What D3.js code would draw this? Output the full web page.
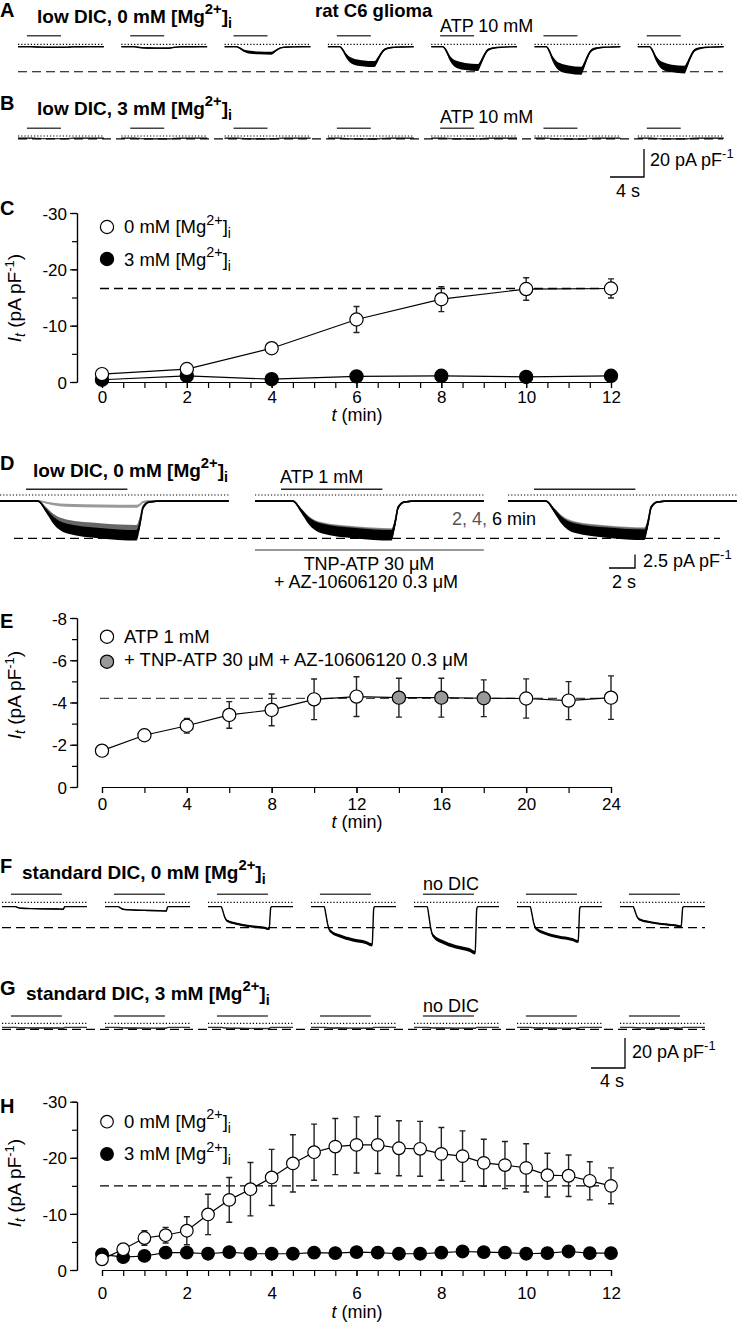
<!DOCTYPE html>
<html><head><meta charset="utf-8">
<script src="https://cdn.jsdelivr.net/npm/d3@7"></script>
<style>
body{margin:0;background:#fff;}
</style></head><body>
<svg id="fig" width="739" height="1322" xmlns="http://www.w3.org/2000/svg"></svg>
<script>
// ================= DATA =================
// Panels A/B: ATP 10 mM responses (pA pF-1), low DIC
const ampA = [0.4, 1.1, 4.7, 12.4, 14.9, 17.2, 16.4];
const ampB = [0.3, 0.4, 0.4, 0.5, 0.4, 0.5, 0.4];
const holdA = -1.7, holdB = -1.6;
const refA = -19.6, refB = -2.1;
const barA = [1.05, 5.05];           // ATP application (s)
const shapeA_t = [0, 1.4, 1.7, 2.2, 2.6, 3.0, 4.0, 5.5, 5.8, 6.2, 6.7, 7.5, 8.5, 10.1];
const shapeA_f = [0, 0, 0.15, 0.55, 0.75, 0.85, 0.95, 1.0, 0.8, 0.45, 0.15, 0.05, 0.02, 0];
const shapeA_n = [0, 0, 0.05, 0.1, 0.13, 0.15, 0.15, 0.15, 0.12, 0.08, 0.04, 0.02, 0, 0];

// Panel C
const timeC = [0, 2, 4, 6, 8, 10, 12];
const c0Mean = [-1.4, -2.3, -6.0, -11.1, -14.7, -16.5, -16.6];
const c0Err = [0.3, 0.3, 0.4, 2.3, 2.2, 2.0, 1.7];
const c3Mean = [-0.4, -1.1, -0.5, -1.0, -1.1, -0.9, -1.1];
const c3Err = [0.2, 0.2, 0.2, 0.2, 0.2, 0.2, 0.2];
const cRef = -16.6;

// Panel D: ATP 1 mM responses at 2, 4, 6 min (pA pF-1)
const ampD2 = [1.0, 6.0, 5.8];
const ampD4 = [5.3, 6.2, 6.0];
const ampD6 = [6.4, 6.4, 6.3];
const holdD = -1.12, refD = -8.1;
const barD = [2.0, 9.8];
const tnpD = [0, 17.6];
const shapeD_t = [0, 2.9, 3.6, 4.1, 5.1, 7.7, 10.5, 10.8, 11.0, 11.5, 12.5, 17.6];
const shapeD_f = [0, 0, 0.31, 0.56, 0.8, 0.94, 1.0, 0.6, 0.2, 0.03, 0, 0];
const shapeD_n = [0, 0, 0.04, 0.08, 0.12, 0.13, 0.13, 0.08, 0.03, 0, 0, 0];

// Panel E
const timeE = [0, 2, 4, 6, 8, 10, 12, 14, 16, 18, 20, 22, 24];
const eMean = [-1.72, -2.45, -2.9, -3.41, -3.65, -4.15, -4.28, -4.23, -4.23, -4.2, -4.19, -4.09, -4.23];
const eErr = [0.1, 0.1, 0.35, 0.63, 0.75, 0.96, 0.94, 0.92, 0.92, 0.87, 0.93, 0.9, 1.03];
const eBlocker = [0, 0, 0, 0, 0, 0, 0, 1, 1, 1, 0, 0, 0];
const eRef = -4.2;

// Panels F/G: standard DIC
const ampF = [1.7, 2.9, 14.9, 25.5, 30.7, 23.3, 13.3];
const ampG = [0.5, 0.6, 0.8, 0.6, 0.6, 0.6, 0.5];
const holdF = -2.9, holdG = -2.7;
const refF = -16.9, refG = -4.0;
const barF = [1.05, 7.05];
const shapeF_t = [0, 1.55, 1.75, 1.95, 2.15, 2.35, 3.3, 4.9, 6.5, 7.2, 7.28, 7.38, 7.5, 10];
const shapeF_f = [0, 0, 0.2, 0.45, 0.6, 0.65, 0.76, 0.87, 0.94, 1.0, 0.6, 0.05, 0, 0];
const shapeF_n = [0, 0, 0.01, 0.02, 0.03, 0.03, 0.03, 0.03, 0.03, 0.03, 0.02, 0, 0, 0];

// Panel H
const timeH = [0, 0.5, 1, 1.5, 2, 2.5, 3, 3.5, 4, 4.5, 5, 5.5, 6, 6.5, 7, 7.5, 8, 8.5, 9, 9.5, 10, 10.5, 11, 11.5, 12];
const h0Mean = [-1.9, -3.7, -5.7, -6.2, -7.0, -9.9, -12.5, -14.4, -16.5, -19.0, -21.0, -22.0, -22.3, -22.3, -21.7, -21.6, -20.7, -20.3, -19.1, -18.7, -18.2, -16.9, -16.8, -15.9, -15.0];
const h0Err = [0.3, 0.6, 1.3, 1.4, 2.5, 3.6, 4.0, 4.75, 5.0, 5.1, 5.0, 5.0, 5.0, 5.1, 4.9, 4.9, 4.7, 4.5, 4.2, 4.2, 4.3, 3.9, 3.7, 3.4, 3.2];
const h3Mean = [-2.8, -2.3, -2.5, -3.1, -3.1, -2.9, -3.2, -2.9, -2.9, -2.9, -3.1, -3.0, -3.2, -3.1, -2.9, -2.9, -3.1, -3.3, -3.2, -3.1, -2.9, -3.0, -3.3, -3.0, -3.0];
const hRef = -15.0;

// ================= DRAWING =================
const FONT = '"Liberation Sans", Arial, Helvetica, sans-serif';
const svg = d3.select("#fig").attr("font-family", FONT);

function text(x, y, s, size, opt = {}) {
  const t = svg.append("text").attr("x", x).attr("y", y).attr("font-size", size)
    .attr("fill", opt.fill || "#000").text(s);
  if (opt.bold) t.attr("font-weight", "bold");
  if (opt.anchor) t.attr("text-anchor", opt.anchor);
  return t;
}
function mgLabel(x, y, prefix, size, bold) {
  const t = svg.append("text").attr("x", x).attr("y", y).attr("font-size", size)
    .attr("font-weight", bold ? "bold" : "normal");
  t.append("tspan").text(prefix + "[Mg");
  t.append("tspan").attr("font-size", size * 0.78).attr("dy", -size * 0.45).text("2+");
  t.append("tspan").attr("dy", size * 0.45).text("]");
  t.append("tspan").attr("font-size", size * 0.75).attr("dy", size * 0.28).text("i");
  return t;
}
function unitLabel(x, y, prefix, size) {
  const t = svg.append("text").attr("x", x).attr("y", y).attr("font-size", size);
  t.append("tspan").text(prefix + "pA pF");
  t.append("tspan").attr("font-size", size * 0.72).attr("dy", -size * 0.45).text("-1");
}

// ---------- trace rows ----------
function traceRow(o) {
  const g = svg.append("g");
  const y = d3.scaleLinear().domain([0, -10]).range([o.zeroY, o.zeroY + 10 * o.ppu]);
  o.starts.forEach((x0, i) => {
    const x = d3.scaleLinear().domain([0, o.dur]).range([x0, x0 + o.dur * o.pps]);
    g.append("line").attr("x1", x(0)).attr("x2", x(o.dur)).attr("y1", y(0)).attr("y2", y(0))
      .attr("stroke", "#000").attr("stroke-width", 1.2).attr("stroke-dasharray", "1.2,2");
    g.append("line").attr("x1", x(o.bar[0])).attr("x2", x(o.bar[1]))
      .attr("y1", y(0) + o.barDy).attr("y2", y(0) + o.barDy)
      .attr("stroke", o.barColor).attr("stroke-width", 1.4);
    o.layers.forEach(L => {
      const amp = L.amps[i];
      const pts = o.shape.t.map((t, k) => ({
        t, v: o.hold - amp * o.shape.f[k], n: o.noiseBase + amp * o.shape.n[k]
      }));
      g.append("path").datum(pts)
        .attr("d", d3.area().curve(d3.curveMonotoneX).x(d => x(d.t))
          .y0(d => y(d.v - d.n)).y1(d => y(d.v + d.n)))
        .attr("fill", L.color).attr("stroke", "none");
      g.append("path").datum(pts)
        .attr("d", d3.line().curve(d3.curveMonotoneX).x(d => x(d.t)).y(d => y(d.v)))
        .attr("fill", "none").attr("stroke", L.color).attr("stroke-width", o.lw);
    });
  });
  g.append("line").attr("x1", o.refX[0]).attr("x2", o.refX[1]).attr("y1", y(o.ref)).attr("y2", y(o.ref))
    .attr("stroke", "#000").attr("stroke-width", 1.2).attr("stroke-dasharray", "9,5");
  return { y };
}

const shapeA = { t: shapeA_t, f: shapeA_f, n: shapeA_n };
const shapeD = { t: shapeD_t, f: shapeD_f, n: shapeD_n };
const shapeF = { t: shapeF_t, f: shapeF_f, n: shapeF_n };
const startsA = d3.range(7).map(i => 18 + i * 103.3);
const startsF = d3.range(7).map(i => 2 + i * 103);

traceRow({ starts: startsA, zeroY: 44.3, ppu: 1.4, pps: 8.5, dur: 10.1, hold: holdA,
  layers: [{ amps: ampA, color: "#000" }], shape: shapeA, noiseBase: 0.3, lw: 1.4,
  bar: barA, barDy: -8.6, barColor: "#444", ref: refA, refX: [18, 723] });
traceRow({ starts: startsA, zeroY: 136, ppu: 1.4, pps: 8.5, dur: 10.1, hold: holdB,
  layers: [{ amps: ampB, color: "#333" }], shape: shapeA, noiseBase: 0.3, lw: 1.4,
  bar: barA, barDy: -7.7, barColor: "#444", ref: refB, refX: [18, 723] });
traceRow({ starts: [0, 255, 508], zeroY: 495, ppu: 5.36, pps: 13, dur: 17.6, hold: holdD,
  layers: [{ amps: ampD2, color: "#9a9a9a" }, { amps: ampD4, color: "#666" }, { amps: ampD6, color: "#000" }],
  shape: shapeD, noiseBase: 0.15, lw: 1.6,
  bar: barD, barDy: -5.7, barColor: "#222", ref: refD, refX: [14, 720] });
{
  const x = d3.scaleLinear().domain([0, 17.6]).range([255, 255 + 17.6 * 13]);
  svg.append("line").attr("x1", x(tnpD[0])).attr("x2", x(tnpD[1])).attr("y1", 550).attr("y2", 550)
    .attr("stroke", "#777").attr("stroke-width", 1.4);
}
traceRow({ starts: startsF, zeroY: 902.3, ppu: 1.5, pps: 8.5, dur: 10, hold: holdF,
  layers: [{ amps: ampF, color: "#000" }], shape: shapeF, noiseBase: 0.3, lw: 1.4,
  bar: barF, barDy: -8, barColor: "#444", ref: refF, refX: [2, 705] });
traceRow({ starts: startsF, zeroY: 1023.3, ppu: 1.5, pps: 8.5, dur: 10, hold: holdG,
  layers: [{ amps: ampG, color: "#333" }], shape: shapeF, noiseBase: 0.3, lw: 1.4,
  bar: barF, barDy: -7.3, barColor: "#444", ref: refG, refX: [2, 705] });

function scaleBar(cx, cy, vLen, hLen) {
  svg.append("path").attr("d", `M${cx},${cy - vLen}V${cy}H${cx - hLen}`)
    .attr("fill", "none").attr("stroke", "#000").attr("stroke-width", 1.3);
}
scaleBar(644, 177, 20 * 1.4, 4 * 8.5);
unitLabel(650, 166, "20 ", 18);
text(616, 197, "4 s", 18);
scaleBar(635, 568, 2.5 * 5.36, 2 * 13);
unitLabel(643, 567, "2.5 ", 18);
text(612, 588, "2 s", 18);
scaleBar(625, 1068, 20 * 1.5, 4 * 8.5);
unitLabel(632, 1058, "20 ", 18);
text(600, 1087, "4 s", 18);

const LET = 20;
text(0, 17, "A", LET, { bold: true });
mgLabel(37, 23, "low DIC, 0 mM ", 19, true);
text(315, 17, "rat C6 glioma", 18.5, { bold: true });
text(440, 32, "ATP 10 mM", 18);
text(0, 110, "B", LET, { bold: true });
mgLabel(37, 115, "low DIC, 3 mM ", 19, true);
text(440, 123, "ATP 10 mM", 18);

text(0, 470, "D", LET, { bold: true });
mgLabel(33, 477, "low DIC, 0 mM ", 19, true);
text(280, 483, "ATP 1 mM", 18);
{
  const t = svg.append("text").attr("x", 452).attr("y", 525).attr("font-size", 18);
  t.append("tspan").attr("fill", "#555").text("2, 4, ");
  t.append("tspan").attr("fill", "#000").text("6 min");
}
text(369, 570, "TNP-ATP 30 μM", 18, { anchor: "middle" });
text(366, 588, "+ AZ-10606120 0.3 μM", 18, { anchor: "middle" });

text(0, 873, "F", LET, { bold: true });
mgLabel(22, 879, "standard DIC, 0 mM ", 19, true);
text(423, 890, "no DIC", 18);
text(0, 995, "G", LET, { bold: true });
mgLabel(26, 1000, "standard DIC, 3 mM ", 19, true);
text(423, 1011.7, "no DIC", 18);

// ---------- XY plots ----------
function yLabel(cx, cy) {
  const t = svg.append("text").attr("transform", `translate(${cx},${cy}) rotate(-90)`)
    .attr("text-anchor", "middle").attr("font-size", 19);
  t.append("tspan").attr("font-style", "italic").text("I");
  t.append("tspan").attr("font-style", "italic").attr("font-size", 14).attr("dy", 4).text("t");
  t.append("tspan").attr("dy", -4).text(" (pA pF");
  t.append("tspan").attr("font-size", 13).attr("dy", -7).text("-1");
  t.append("tspan").attr("dy", 7).text(")");
}
function xLabel(cx, y) {
  const t = svg.append("text").attr("x", cx).attr("y", y).attr("text-anchor", "middle").attr("font-size", 18);
  t.append("tspan").attr("font-style", "italic").text("t");
  t.append("tspan").text(" (min)");
}
function styleAxis(g) {
  g.selectAll("path,line").attr("stroke", "#000").attr("stroke-width", 1.2);
  g.selectAll("text").attr("font-size", 17).attr("font-family", FONT).attr("fill", "#000");
  g.attr("font-family", null).attr("font-size", null);
}
function plot(o) {
  const x = d3.scaleLinear().domain(o.xDomain).range([102, 611]);
  const y = d3.scaleLinear().domain([0, o.yMin]).range([o.y0, o.yTop]);
  const gy1 = svg.append("g").attr("transform", "translate(77,0)")
    .call(d3.axisLeft(y).tickValues(o.yMinor).tickSize(5).tickSizeOuter(0).tickFormat(""));
  const gy2 = svg.append("g").attr("transform", "translate(77,0)")
    .call(d3.axisLeft(y).tickValues(o.yMajor).tickSize(7).tickSizeOuter(0).tickPadding(3).tickFormat(d => String(d)));
  styleAxis(gy1); styleAxis(gy2);
  gy2.selectAll("text").attr("dy", "0.36em");
  const gx1 = svg.append("g").attr("transform", `translate(0,${o.y0})`)
    .call(d3.axisBottom(x).tickValues(o.xTicks).tickSize(6).tickSizeOuter(0).tickFormat(""));
  const gx2 = svg.append("g").attr("transform", `translate(0,${o.y0})`)
    .call(d3.axisBottom(x).tickValues(o.xLabels).tickSize(6).tickSizeOuter(0).tickPadding(o.xPad).tickFormat(d => String(d)));
  styleAxis(gx1); styleAxis(gx2);
  svg.append("line").attr("x1", x(o.xDomain[0]) - 2).attr("x2", x(o.xDomain[1]))
    .attr("y1", y(o.ref)).attr("y2", y(o.ref))
    .attr("stroke", o.refColor).attr("stroke-width", 1.3).attr("stroke-dasharray", "9,5");
  o.series.forEach(s => {
    const pts = o.time.map((t, i) => ({ t, m: s.mean[i], e: s.err[i], fill: s.fill(i) }));
    svg.append("path").datum(pts)
      .attr("d", d3.line().x(d => x(d.t)).y(d => y(d.m)))
      .attr("fill", "none").attr("stroke", "#000").attr("stroke-width", 1.2);
    const eb = svg.append("g");
    pts.forEach(d => {
      const yt = y(d.m - d.e), yb = y(d.m + d.e), cx = x(d.t);
      eb.append("path").attr("d", `M${cx},${yt}V${yb}M${cx - 3},${yt}H${cx + 3}M${cx - 3},${yb}H${cx + 3}`)
        .attr("stroke", "#222").attr("stroke-width", 1.4).attr("fill", "none");
    });
    svg.append("g").selectAll("circle").data(pts).join("circle")
      .attr("cx", d => x(d.t)).attr("cy", d => y(d.m)).attr("r", o.r)
      .attr("fill", d => d.fill).attr("stroke", "#000").attr("stroke-width", 1.2);
  });
  o.legend.forEach(L => {
    svg.append("circle").attr("cx", 107).attr("cy", L.cy).attr("r", o.r)
      .attr("fill", L.fill).attr("stroke", "#000").attr("stroke-width", 1.2);
    if (L.mg) mgLabel(124, L.base, L.text, 18.5, false);
    else text(124, L.base, L.text, 18.5);
  });
  yLabel(o.yLabelX, o.yLabelY);
  xLabel(357, o.xLabelY);
}

text(0, 215, "C", LET, { bold: true });
plot({
  xDomain: [0, 12], yMin: -30, y0: 382, yTop: 213,
  yMinor: d3.range(0, -31, -5), yMajor: [-30, -20, -10, 0],
  xTicks: d3.range(0, 12.01, 0.5), xLabels: [0, 2, 4, 6, 8, 10, 12], xPad: 3,
  ref: cRef, refColor: "#000", r: 6.6, time: timeC,
  series: [
    { mean: c3Mean, err: c3Err, fill: () => "#000" },
    { mean: c0Mean, err: c0Err, fill: () => "#fff" }
  ],
  legend: [{ cy: 227, base: 233, text: "0 mM ", mg: true, fill: "#fff" },
           { cy: 259, base: 265.5, text: "3 mM ", mg: true, fill: "#000" }],
  yLabelX: 21, yLabelY: 298, xLabelY: 421
});

text(0, 628, "E", LET, { bold: true });
plot({
  xDomain: [0, 24], yMin: -8, y0: 787, yTop: 618,
  yMinor: d3.range(0, -8.01, -1), yMajor: [-8, -6, -4, -2, 0],
  xTicks: d3.range(0, 24.01, 2), xLabels: [0, 4, 8, 12, 16, 20, 24], xPad: 4.5,
  ref: eRef, refColor: "#444", r: 6.6, time: timeE,
  series: [
    { mean: eMean, err: eErr, fill: i => eBlocker[i] ? "#999" : "#fff" }
  ],
  legend: [{ cy: 636.7, base: 643, text: "ATP 1 mM", fill: "#fff" },
           { cy: 661.7, base: 665.5, text: "+ TNP-ATP 30 μM + AZ-10606120 0.3 μM", fill: "#999" }],
  yLabelX: 21, yLabelY: 695, xLabelY: 828
});

text(0, 1113, "H", LET, { bold: true });
plot({
  xDomain: [0, 12], yMin: -30, y0: 1270, yTop: 1101.7,
  yMinor: d3.range(0, -31, -5), yMajor: [-30, -20, -10, 0],
  xTicks: d3.range(0, 12.01, 0.5), xLabels: [0, 2, 4, 6, 8, 10, 12], xPad: 11,
  ref: hRef, refColor: "#000", r: 6.3, time: timeH,
  series: [
    { mean: h3Mean, err: h3Mean.map(() => 0.2), fill: () => "#000" },
    { mean: h0Mean, err: h0Err, fill: () => "#fff" }
  ],
  legend: [{ cy: 1121.7, base: 1127.7, text: "0 mM ", mg: true, fill: "#fff" },
           { cy: 1154, base: 1160, text: "3 mM ", mg: true, fill: "#000" }],
  yLabelX: 21, yLabelY: 1183, xLabelY: 1318
});
</script>
</body></html>
